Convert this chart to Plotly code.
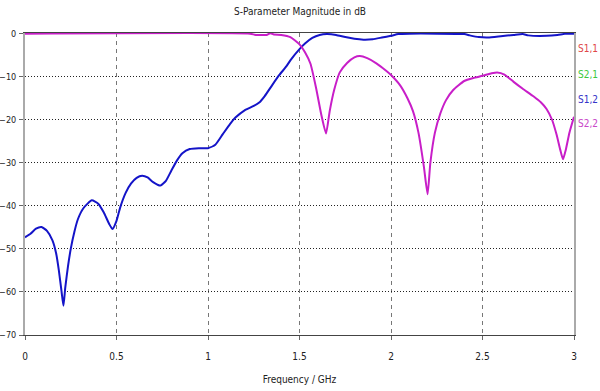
import plotly.graph_objects as go

# S1,2 (blue)
freq_s12 = [0.00, 0.03, 0.06, 0.09, 0.12, 0.15, 0.17, 0.185, 0.20, 0.21, 0.22, 0.235, 0.25, 0.27, 0.29,
            0.32, 0.365, 0.40, 0.43, 0.46, 0.478, 0.50, 0.52, 0.55, 0.58, 0.61, 0.64, 0.67, 0.70, 0.74,
            0.77, 0.80, 0.83, 0.86, 0.90, 0.95, 1.00, 1.04, 1.08, 1.12, 1.15, 1.20, 1.25, 1.28, 1.31,
            1.35, 1.39, 1.43, 1.45, 1.50, 1.53, 1.57, 1.61, 1.65, 1.70, 1.75, 1.80, 1.85, 1.90, 1.95,
            2.00, 2.04, 2.10, 2.40, 2.43, 2.48, 2.53, 2.60, 2.67, 2.72, 2.75, 2.85, 2.91, 2.95, 3.00]
db_s12 = [-47.3, -46.5, -45.3, -44.9, -45.8, -48.0, -51.0, -55.0, -60.0, -63.2, -59.0, -54.0, -50.0, -46.0, -43.0,
          -40.5, -38.7, -39.5, -41.5, -44.2, -45.4, -43.5, -40.4, -37.0, -34.8, -33.5, -33.0, -33.4, -34.5, -35.3,
          -34.2, -31.8, -29.5, -27.8, -26.8, -26.6, -26.6, -25.8, -23.4, -21.0, -19.5, -17.8, -16.8, -16.0, -14.5,
          -12.0, -9.6, -7.5, -6.2, -3.6, -2.3, -1.0, -0.3, -0.1, -0.3, -0.8, -1.2, -1.4, -1.3, -0.9,
          -0.5, -0.1, 0.0, -0.1, -0.4, -0.8, -0.9, -0.6, -0.3, -0.1, -0.4, -0.5, -0.3, -0.05, 0.0]

# S2,2 (magenta)
freq_s22 = [0.00, 1.23, 1.26, 1.32, 1.34, 1.36, 1.40, 1.45, 1.50, 1.53, 1.56, 1.59, 1.62, 1.645, 1.665,
            1.69, 1.72, 1.76, 1.80, 1.83, 1.87, 1.92, 1.97, 2.00, 2.05, 2.09, 2.12, 2.15, 2.18, 2.20,
            2.215, 2.24, 2.27, 2.30, 2.34, 2.40, 2.45, 2.50, 2.55, 2.58, 2.62, 2.67, 2.72, 2.78, 2.82,
            2.85, 2.88, 2.905, 2.925, 2.94, 2.955, 2.975, 3.00]
db_s22 = [0.0, 0.0, -0.3, -0.3, 0.1, -0.2, -0.3, -0.8, -2.5, -4.3, -7.0, -12.5, -19.0, -23.2, -18.0,
          -13.0, -9.0, -6.8, -5.5, -5.2, -5.7, -6.9, -8.5, -9.6, -12.0, -15.0, -18.0, -23.0, -31.0, -37.3,
          -30.0, -23.0, -18.5, -15.5, -13.1, -11.0, -10.3, -9.8, -9.2, -9.0, -9.5, -11.2, -12.8, -14.6, -16.0,
          -17.5, -20.0, -23.5, -27.0, -29.2, -27.0, -23.0, -19.3]

legend_names = ["S1,1", "S2,1", "S1,2", "S2,2"]
legend_colors = ["#e04848", "#3cc83c", "#3434c8", "#c848c8"]
legend_y = [0.950, 0.864, 0.781, 0.699]

x_ticks = [0, 0.5, 1, 1.5, 2, 2.5, 3]
x_tick_labels = ["0", "0.5", "1", "1.5", "2", "2.5", "3"]
y_ticks = [0, -10, -20, -30, -40, -50, -60, -70]

FONT = "Liberation Sans Narrow, DejaVu Sans Condensed, Liberation Sans, Arial, sans-serif"

fig = go.Figure()
fig.add_trace(go.Scatter(x=freq_s12, y=db_s12, mode="lines", name="S1,2",
                         line=dict(color="#1414c8", width=2, shape="spline", smoothing=0.5)))
fig.add_trace(go.Scatter(x=freq_s22, y=db_s22, mode="lines", name="S2,2",
                         line=dict(color="#c81ec8", width=2, shape="spline", smoothing=0.5)))

for name, col, yy in zip(legend_names, legend_colors, legend_y):
    fig.add_annotation(text=name, x=1.0, y=yy, xref="paper", yref="paper",
                       xanchor="left", yanchor="middle", xshift=2, showarrow=False,
                       font=dict(color=col, size=10, family=FONT))

fig.update_layout(
    width=600, height=391,
    margin=dict(l=25, r=26, t=33, b=56, autoexpand=False),
    paper_bgcolor="white", plot_bgcolor="white",
    showlegend=False,
    font=dict(family=FONT, size=10, color="#222"),
    title=dict(text="S-Parameter Magnitude in dB", x=0.5, xanchor="center", y=0.97, yanchor="middle",
               font=dict(size=10, family=FONT, color="#222")),
)
fig.update_xaxes(range=[0, 3], tickvals=x_ticks, ticktext=x_tick_labels, automargin=False,
                 showgrid=True, gridcolor="#777", griddash="4px,4px", gridwidth=1,
                 showline=True, linecolor="#444", linewidth=1, mirror=True,
                 ticks="outside", ticklen=4, tickcolor="#666", zeroline=False,
                 ticklabelstandoff=8,
                 title=dict(text="Frequency / GHz", standoff=14, font=dict(size=10, family=FONT)))
fig.update_yaxes(range=[-70, 0.15], tickvals=y_ticks, automargin=False,
                 showgrid=True, gridcolor="#222", griddash="1px,2px", gridwidth=1,
                 showline=True, linecolor="#aaa", linewidth=2, mirror=True,
                 ticks="outside", ticklen=4, tickcolor="#666", zeroline=False,
                 ticklabelstandoff=1, tickfont=dict(size=9))

fig.write_html("out.html", config={"displayModeBar": False},
               post_script="document.body.style.margin='0px';document.body.style.overflow='hidden';")
